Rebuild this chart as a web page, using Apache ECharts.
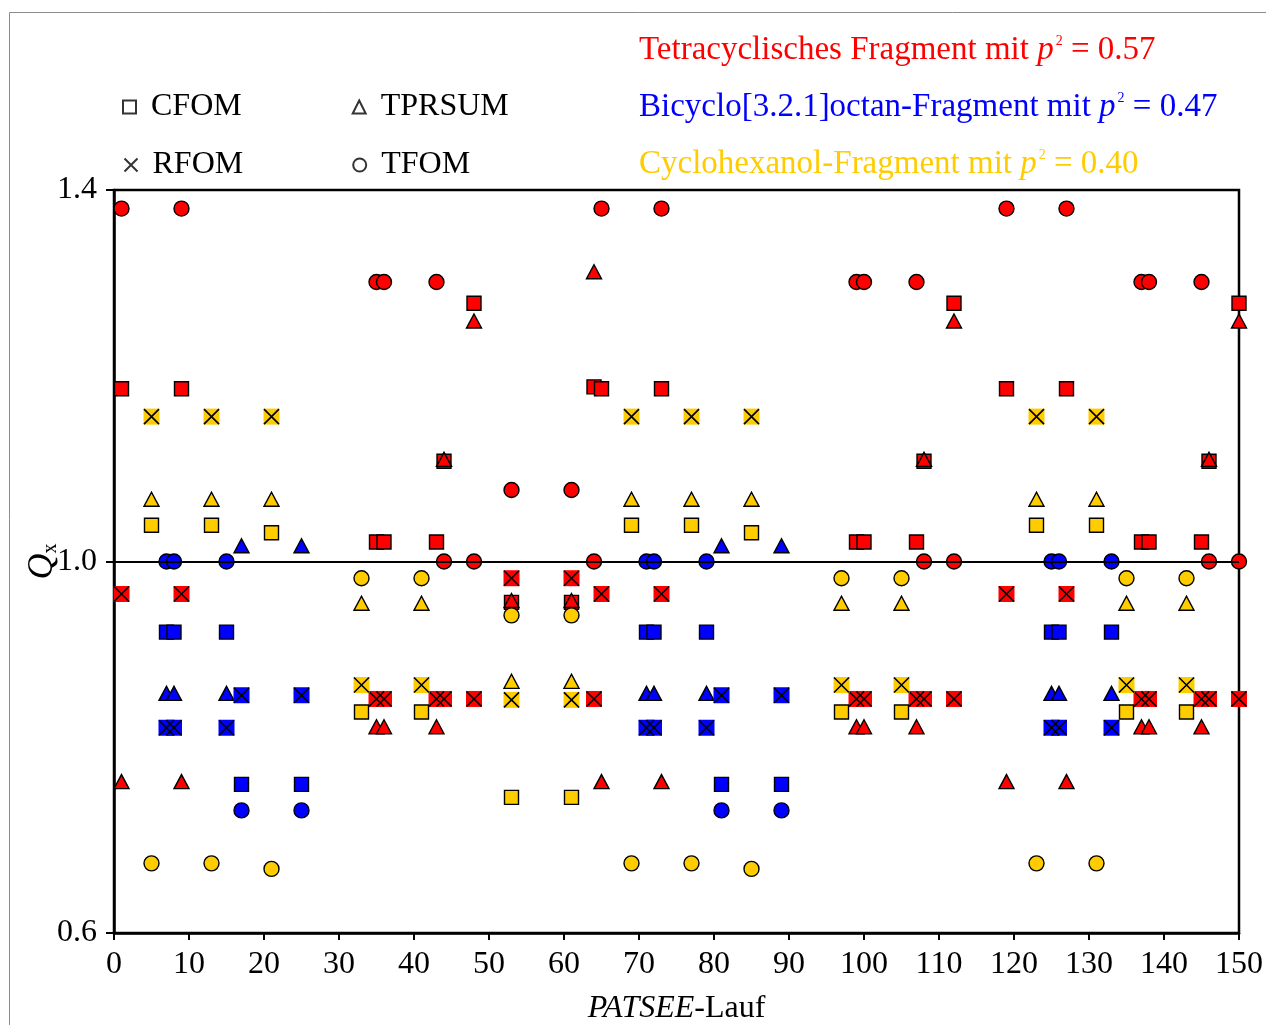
<!DOCTYPE html>
<html>
<head>
<meta charset="utf-8">
<script src="https://cdn.jsdelivr.net/npm/echarts@6/dist/echarts.min.js"></script>
<style>
    html, body { margin: 0; padding: 0; background: #fff; }
    #chart { width: 1266px; height: 1025px; }
</style>
</head>
<body>
<div id="chart"></div>
<script>
// PATSEE-Lauf vs Q_x
const redCFOM = [[1, 1.186], [9, 1.186], [35, 1.021], [36, 1.021], [43, 1.021], [44, 1.108], [48, 1.278], [53, 0.956], [61, 0.956], [64, 1.188], [65, 1.186], [73, 1.186], [99, 1.021], [100, 1.021], [107, 1.021], [108, 1.108], [112, 1.278], [119, 1.186], [127, 1.186], [137, 1.021], [138, 1.021], [145, 1.021], [146, 1.108], [150, 1.278]];
const redTPRSUM = [[1, 0.763], [9, 0.763], [35, 0.822], [36, 0.822], [43, 0.822], [44, 1.110], [48, 1.259], [53, 0.958], [61, 0.958], [64, 1.312], [65, 0.763], [73, 0.763], [99, 0.822], [100, 0.822], [107, 0.822], [108, 1.110], [112, 1.259], [119, 0.763], [127, 0.763], [137, 0.822], [138, 0.822], [145, 0.822], [146, 1.110], [150, 1.259]];
const redRFOM = [[1, 0.965], [9, 0.965], [35, 0.852], [36, 0.852], [43, 0.852], [44, 0.852], [48, 0.852], [53, 0.982], [61, 0.982], [64, 0.852], [65, 0.965], [73, 0.965], [99, 0.852], [100, 0.852], [107, 0.852], [108, 0.852], [112, 0.852], [119, 0.965], [127, 0.965], [137, 0.852], [138, 0.852], [145, 0.852], [146, 0.852], [150, 0.852]];
const redTFOM = [[1, 1.38], [9, 1.38], [35, 1.301], [36, 1.301], [43, 1.301], [44, 1.0], [48, 1.0], [53, 1.077], [61, 1.077], [64, 1.0], [65, 1.38], [73, 1.38], [99, 1.301], [100, 1.301], [107, 1.301], [108, 1.0], [112, 1.0], [119, 1.38], [127, 1.38], [137, 1.301], [138, 1.301], [145, 1.301], [146, 1.0], [150, 1.0]];

const blueCFOM = [[7, 0.924], [8, 0.924], [15, 0.924], [17, 0.760], [25, 0.760], [71, 0.924], [72, 0.924], [79, 0.924], [81, 0.760], [89, 0.760], [125, 0.924], [126, 0.924], [133, 0.924]];
const blueTPRSUM = [[7, 0.858], [8, 0.858], [15, 0.858], [17, 1.017], [25, 1.017], [71, 0.858], [72, 0.858], [79, 0.858], [81, 1.017], [89, 1.017], [125, 0.858], [126, 0.858], [133, 0.858]];
const blueRFOM = [[7, 0.821], [8, 0.821], [15, 0.821], [17, 0.856], [25, 0.856], [71, 0.821], [72, 0.821], [79, 0.821], [81, 0.856], [89, 0.856], [125, 0.821], [126, 0.821], [133, 0.821]];
const blueTFOM = [[7, 1.0], [8, 1.0], [15, 1.0], [17, 0.732], [25, 0.732], [71, 1.0], [72, 1.0], [79, 1.0], [81, 0.732], [89, 0.732], [125, 1.0], [126, 1.0], [133, 1.0]];

const yellowCFOM = [[5, 1.039], [13, 1.039], [21, 1.031], [33, 0.838], [41, 0.838], [53, 0.746], [61, 0.746], [69, 1.039], [77, 1.039], [85, 1.031], [97, 0.838], [105, 0.838], [123, 1.039], [131, 1.039], [135, 0.838], [143, 0.838]];
const yellowTPRSUM = [[5, 1.067], [13, 1.067], [21, 1.067], [33, 0.955], [41, 0.955], [53, 0.871], [61, 0.871], [69, 1.067], [77, 1.067], [85, 1.067], [97, 0.955], [105, 0.955], [123, 1.067], [131, 1.067], [135, 0.955], [143, 0.955]];
const yellowRFOM = [[5, 1.156], [13, 1.156], [21, 1.156], [33, 0.867], [41, 0.867], [53, 0.851], [61, 0.851], [69, 1.156], [77, 1.156], [85, 1.156], [97, 0.867], [105, 0.867], [123, 1.156], [131, 1.156], [135, 0.867], [143, 0.867]];
const yellowTFOM = [[5, 0.675], [13, 0.675], [21, 0.669], [33, 0.982], [41, 0.982], [53, 0.942], [61, 0.942], [69, 0.675], [77, 0.675], [85, 0.669], [97, 0.982], [105, 0.982], [123, 0.675], [131, 0.675], [135, 0.982], [143, 0.982]];

const measures = ["CFOM", "TPRSUM", "RFOM", "TFOM"];
const fragments = [
    {label: "Tetracyclisches Fragment mit ", p2: "0.57"},
    {label: "Bicyclo[3.2.1]octan-Fragment mit ", p2: "0.47"},
    {label: "Cyclohexanol-Fragment mit ", p2: "0.40"}
];
const xTicks = [0, 150, 10];
const yTicks = [0.6, 1.0, 1.4];

const FONT = "Liberation Serif";
const FS = 32;
const colors = ["#ff0000", "#0000ff", "#ffcc00"];
const X_PATH = "path://M0,0L10,10M10,0L0,10";

function pointSeries(name, data, color) {
    const kind = name.split(" ")[1];
    const base = {type: "scatter", data: data, z: 3, silent: true};
    if (kind === "RFOM") {
        return [
            Object.assign({}, base, {name: name, symbol: "rect", symbolSize: 16,
                itemStyle: {color: color, borderWidth: 0, opacity: 1}}),
            Object.assign({}, base, {name: name + " x", symbol: X_PATH, symbolSize: 15,
                itemStyle: {color: "none", borderColor: "#000", borderWidth: 1.6, opacity: 1}})
        ];
    }
    const shapes = {CFOM: ["rect", 14], TPRSUM: ["triangle", [15, 14]], TFOM: ["circle", 15]};
    return [Object.assign({}, base, {name: name, symbol: shapes[kind][0], symbolSize: shapes[kind][1],
        itemStyle: {color: color, borderColor: "#000", borderWidth: 1.4, opacity: 1}})];
}

const groups = [
    [redCFOM, redTPRSUM, redRFOM, redTFOM],
    [blueCFOM, blueTPRSUM, blueRFOM, blueTFOM],
    [yellowCFOM, yellowTPRSUM, yellowRFOM, yellowTFOM]
];

let series = [];
groups.forEach(function (g, gi) {
    g.forEach(function (d, mi) {
        series = series.concat(pointSeries("f" + gi + " " + measures[mi], d, colors[gi]));
    });
});

// dummy series for the black outline legend
const legendSymbols = {CFOM: "rect", TPRSUM: "triangle", RFOM: X_PATH, TFOM: "circle"};
measures.forEach(function (m) {
    series.push({
        type: "scatter", name: m, data: [], symbol: legendSymbols[m],
        itemStyle: {color: m === "RFOM" ? "none" : "#fff", borderColor: "#000", borderWidth: 1.6}
    });
});

// reference line at Q = 1
series.push({
    type: "line", name: "ref", data: [], z: 1, silent: true,
    markLine: {
        silent: true, symbol: "none", label: {show: false},
        lineStyle: {color: "#000", width: 2, type: "solid"},
        data: [{yAxis: 1.0}]
    }
});

function fragRich(color) {
    return {
        a: {fontFamily: FONT, fontSize: 33, fontWeight: "normal", color: color},
        p: {fontFamily: FONT, fontSize: 33, fontWeight: "normal", color: color, fontStyle: "italic"},
        s: {fontFamily: FONT, fontSize: 14, fontWeight: "normal", color: color, verticalAlign: "top", padding: [0, 0, 0, 2]}
    };
}

const legendText = {fontFamily: FONT, fontSize: FS, color: "#000", padding: [0, 0, 0, 10]};

const option = {
    animation: false,
    backgroundColor: "#fff",
    title: fragments.map(function (f, i) {
        return {
            left: 639, top: 34 + i * 57, padding: 0,
            text: "{a|" + f.label + "}{p|p}{s|2}{a| = " + f.p2 + "}",
            textStyle: {fontWeight: "normal", rich: fragRich(colors[i])}
        };
    }),
    legend: [
        {data: ["CFOM", "TPRSUM"], left: 122, top: 91, padding: 0, itemWidth: 13, itemHeight: 13,
            itemGap: 110, selectedMode: false, textStyle: legendText},
        {data: ["RFOM", "TFOM"], left: 122, top: 149, padding: 0, itemWidth: 13, itemHeight: 13,
            itemGap: 109, selectedMode: false, textStyle: legendText}
    ],
    graphic: [{
        type: "rect", left: 7, top: 10, silent: true,
        shape: {width: 1400, height: 1200},
        style: {fill: "none", stroke: "#8c8c8c", lineWidth: 1}
    }],
    grid: {left: 114, right: 27, top: 190, bottom: 92, show: true, outerBoundsMode: "none",
        borderColor: "#000", borderWidth: 2.5, backgroundColor: "transparent"},
    xAxis: {
        type: "value", min: xTicks[0], max: xTicks[1], interval: xTicks[2],
        name: "{i|PATSEE}{n|-Lauf}", nameLocation: "middle", nameGap: 60, nameMoveOverlap: false,
        nameTextStyle: {rich: {
            i: {fontFamily: FONT, fontSize: FS, fontStyle: "italic", color: "#000"},
            n: {fontFamily: FONT, fontSize: FS, color: "#000"}
        }},
        axisLine: {lineStyle: {color: "#000", width: 2.5}},
        axisTick: {show: true, inside: false, length: 7, lineStyle: {color: "#000", width: 2}},
        axisLabel: {fontFamily: FONT, fontSize: FS, color: "#000", margin: 16},
        splitLine: {show: false}
    },
    yAxis: {
        type: "value", min: 0.6, max: 1.4, interval: 0.2,
        name: "{q|Q}{x|x}", nameLocation: "middle", nameRotate: 90, nameGap: 53, nameMoveOverlap: false,
        nameTextStyle: {rich: {
            q: {fontFamily: FONT, fontSize: 36, fontStyle: "italic", color: "#000"},
            x: {fontFamily: FONT, fontSize: 20, color: "#000", verticalAlign: "bottom"}
        }},
        axisLine: {lineStyle: {color: "#000", width: 2.5}},
        axisTick: {show: true, inside: false, length: 8, customValues: yTicks,
            lineStyle: {color: "#000", width: 2}},
        axisLabel: {fontFamily: FONT, fontSize: FS, color: "#000", margin: 17,
            customValues: yTicks,
            formatter: function (v) { return v.toFixed(1); }},
        splitLine: {show: false}
    },
    series: series
};

const chart = echarts.init(document.getElementById("chart"));
chart.setOption(option);
</script>
</body>
</html>
